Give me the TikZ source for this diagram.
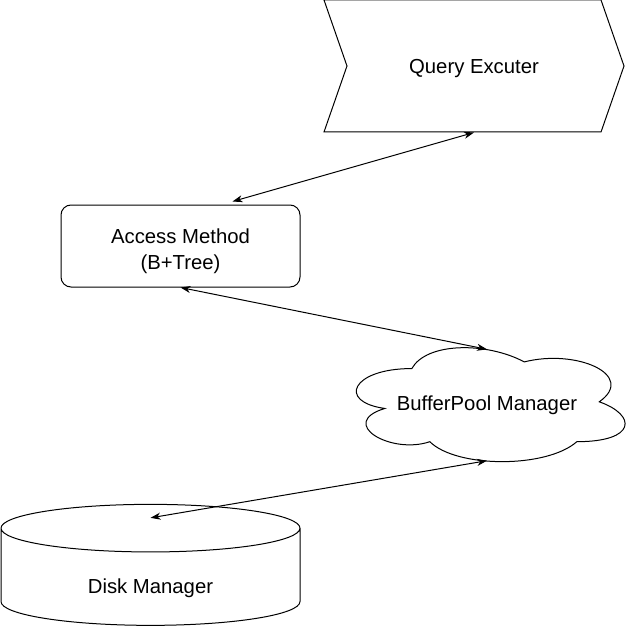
\documentclass[tikz,border=0pt]{standalone}
\usepackage{fontspec}
\setmainfont{Liberation Sans}
\usetikzlibrary{shapes.symbols,shapes.geometric,arrows.meta}
\newcommand{\shiftdown}[2]{\raisebox{-#1}[\height][\depth]{#2}}
\tikzset{
  every node/.style={font=\fontsize{20.3}{26}\selectfont, align=center},
  link/.style={{Stealth[length=10pt,width=7pt,inset=3pt]}-{Stealth[length=10pt,width=7pt,inset=3pt]}, line width=1pt},
  chevron/.style={draw, line width=1pt, shape=signal, signal from=west, signal to=east, signal pointer angle=141.6, minimum width=300pt, minimum height=132pt, inner sep=0pt},
  box/.style={draw, line width=1pt, rounded corners=10pt, minimum width=239pt, minimum height=82pt},
  puff/.style={minimum width=300pt, minimum height=133pt, inner sep=0pt},
  disk/.style={draw, line width=1pt, shape=cylinder, shape border rotate=90, aspect=0.38, minimum width=299pt, minimum height=121pt, inner sep=0pt}
}
\begin{document}
\begin{tikzpicture}[x=1pt,y=-1pt]
\useasboundingbox (0,0) rectangle (638,626);
\node[chevron] (query) at (474,66) {\shiftdown{3pt}{Query Excuter}};
\node[box] (access) at (180.5,246) {\shiftdown{5pt}{Access Method}\\\shiftdown{5pt}{(B+Tree)}};
\node[puff] (buffer) at (487,402) {\shiftdown{3pt}{BufferPool Manager}};
\node[disk] (disk) at (150.5,577) {\shiftdown{11pt}{Disk Manager}};

% cloud outline round the buffer node
\draw[line width=1pt, shift={(buffer.north west)}, x=300pt, y=-133pt]
  (0.25,0.25) .. controls (0.05,0.25) and (0,0.5) .. (0.16,0.55)
  .. controls (0,0.66) and (0.18,0.9) .. (0.31,0.8)
  .. controls (0.4,1) and (0.7,1) .. (0.8,0.8)
  .. controls (1,0.8) and (1,0.6) .. (0.875,0.5)
  .. controls (1,0.3) and (0.8,0.1) .. (0.625,0.2)
  .. controls (0.5,0.05) and (0.3,0.05) .. (0.25,0.25) -- cycle;

\draw[link] ([xshift=52pt,yshift=3pt]access.north) -- (query.south);
\draw[link] (access.south) -- ([yshift=-14pt]buffer.north);
\draw[link] ([yshift=8pt]buffer.south) -- ([yshift=-14pt]disk.north);
\end{tikzpicture}
\end{document}
